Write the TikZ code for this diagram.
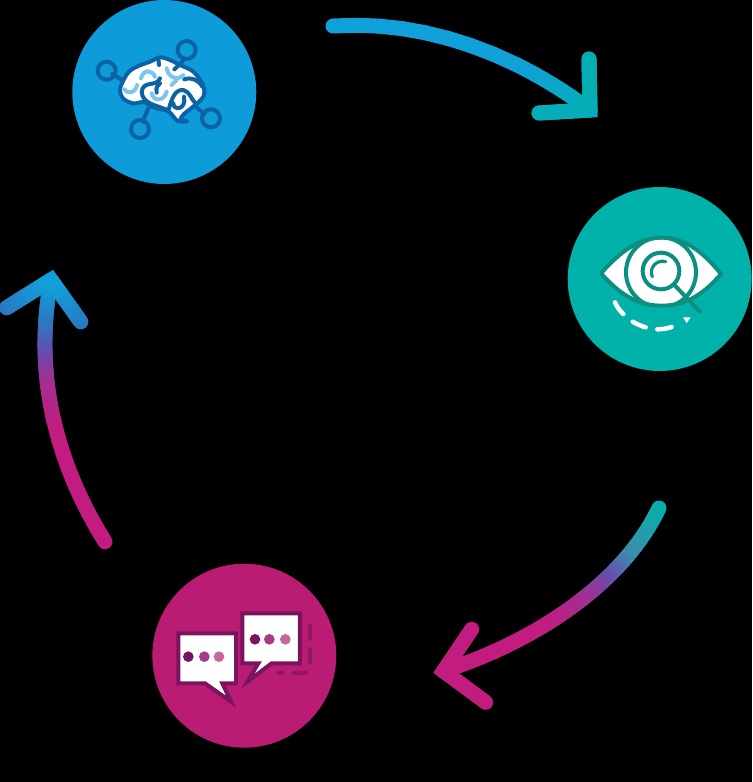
\documentclass[tikz,border=0pt]{standalone}
\usepackage{xcolor}
\usepackage{tikz}
\usetikzlibrary{calc,positioning}
\definecolor{brainblue}{HTML}{0E9BD9}
\definecolor{braindark}{HTML}{0B63A6}
\definecolor{brainlight}{HTML}{7CC6EE}
\definecolor{eyeteal}{HTML}{00B2A9}
\definecolor{eyedark}{HTML}{0C8F80}
\definecolor{chatpink}{HTML}{B91C72}
\definecolor{chatdark}{HTML}{7B1460}
\definecolor{chatmid}{HTML}{A53B87}
\definecolor{chatsoft}{HTML}{C565A2}
\definecolor{arrowblue}{HTML}{10A0DA}
\definecolor{arrowsky}{HTML}{2B78C2}
\definecolor{arrowteal}{HTML}{00B2A9}
\definecolor{arrowsea}{HTML}{3A8FAE}
\definecolor{arrowviolet}{HTML}{6A4BAC}
\definecolor{arrowplum}{HTML}{A22F90}
\definecolor{arrowpink}{HTML}{C21C80}
\tikzset{
  stage/.style={circle, draw=none, inner sep=0pt, minimum size=3.68cm},
  arrowline/.style={line width=0.3cm, line cap=round, line join=round},
  arrowhead/.style={line width=0.3cm, line cap=round, line join=miter, miter limit=10},
  iconline/.style={line width=0.08cm, line cap=round, line join=round},
  iconthin/.style={line width=0.065cm, line cap=round, line join=round}
}
% draws a path piece by piece, each stop list entry is from/to/colour/colour
\newcommand{\gradcurve}[2]{%
  \foreach \tA/\tB/\colA/\colB in {#2} {
    \foreach \s in {0,...,7} {
      \pgfmathsetmacro\pa{\tA+(\tB-\tA)*\s/8}
      \pgfmathsetmacro\pb{\tA+(\tB-\tA)*(\s+1)/8}
      \pgfmathsetmacro\mixp{100*(\s+0.5)/8}
      \path #1 coordinate[pos=\pa] (pa) coordinate[pos=\pb] (pb);
      \draw[arrowline, \colB!\mixp!\colA] (pa) -- (pb);
    }
  }
}
\begin{document}
\begin{tikzpicture}[x=0.02cm,y=-0.02cm]
  \fill[black] (0,0) rectangle (752,782);
  \useasboundingbox (0,0) rectangle (752,782);

  \node[stage, fill=brainblue] (brain) at (164.3,92) {};
  \node[stage, fill=eyeteal] (eye) at (659.7,279) {};
  \node[stage, fill=chatpink] (chat) at (244.3,655.7) {};

  % arrow from brain to eye
  \coordinate (startA) at (333,26);
  \coordinate (tipA) at (590,110);
  \coordinate (armAa) at (589,59);
  \coordinate (armAb) at (539,113);
  \gradcurve{(startA) .. controls (420,20) and (510,50) .. (tipA)}
    {0/0.7/arrowblue/arrowblue, 0.7/1/arrowblue/arrowteal!60!arrowblue}
  \draw[arrowhead, arrowteal] (armAa) -- (tipA) -- (armAb);
  \gradcurve{(armAa) -- (tipA)}{0/1/arrowteal!80!arrowblue/arrowteal}
  \gradcurve{(armAb) -- (tipA)}{0/1/arrowteal!70!arrowblue/arrowteal}

  % arrow from eye to chat
  \coordinate (startB) at (659,508);
  \coordinate (tipB) at (443.5,671);
  \coordinate (armBa) at (471.7,629.3);
  \coordinate (armBb) at (485.7,702.3);
  \gradcurve{(startB) .. controls (625,580) and (540,640) .. (tipB)}
    {0/0.24/arrowteal/arrowsea, 0.24/0.36/arrowsea/arrowviolet, 0.36/0.48/arrowviolet/arrowplum, 0.48/0.64/arrowplum/arrowpink, 0.64/1/arrowpink/arrowpink}
  \draw[arrowhead, arrowpink] (armBa) -- (tipB) -- (armBb);

  % arrow from chat to brain
  \coordinate (startC) at (105,541.7);
  \coordinate (tipC) at (51,280);
  \coordinate (armCa) at (6.7,307.7);
  \coordinate (armCb) at (80.7,321.7);
  \gradcurve{(startC) .. controls (60,470) and (32,380) .. (tipC)}
    {0/0.5/arrowpink/arrowpink, 0.5/0.67/arrowpink/arrowplum, 0.67/0.77/arrowplum/arrowviolet, 0.77/0.88/arrowviolet/arrowsky, 0.88/1/arrowsky/arrowblue}
  \draw[arrowhead, arrowblue] (armCa) -- (tipC) -- (armCb);
  \gradcurve{(armCa) -- (tipC)}{0/1/arrowsky/arrowblue}
  \gradcurve{(armCb) -- (tipC)}{0/1/arrowsky/arrowblue}

  % brain icon rings, zoomed coordinates
  \begin{scope}[shift={(70,0)},scale=1/3]
    \draw[iconline, braindark] (127,222) -- (165,245);
    \draw[iconline, braindark] (342,175) -- (325,205);
    \draw[iconline, braindark] (218,365) -- (235,325);
    \draw[iconline, braindark] (403,342) -- (375,318);
    \foreach \nx/\ny in {110/212,350/150,210/387,423/355}
      \draw[iconline, braindark] (\nx,\ny) circle (27);
  \end{scope}

  % brain icon body, zoomed coordinates
  \begin{scope}[shift={(115,50)},scale=1/3]
    \draw[iconline, braindark, fill=white] plot[smooth cycle, tension=0.55] coordinates {
      (15,118) (30,82) (45,62) (70,48) (105,35) (135,22) (165,30) (195,45) (235,65)
      (264,105) (265,140) (232,172) (207,192) (197,208) (217,214) (187,212) (160,184)
      (115,172) (88,156) (55,160) (25,146)};
    \draw[iconline, braindark] (135,85) .. controls (125,112) and (85,90) .. (80,125)
      .. controls (82,165) and (130,165) .. (160,182)
      .. controls (170,145) and (180,118) .. (205,120)
      .. controls (225,125) and (230,150) .. (240,158);
    \draw[iconline, braindark] (207,140) .. controls (215,180) and (175,183) .. (175,160);
    \draw[iconline, braindark] (125,128) .. controls (122,112) and (128,105) .. (135,100);
    \draw[iconline, braindark] (130,25) -- (132,45);
    \draw[iconline, braindark] (192,45) -- (178,58);
    \draw[iconline, braindark] (208,88) .. controls (230,80) and (250,90) .. (262,110);
    \draw[iconline, brainlight] (28,118) .. controls (40,135) and (62,128) .. (66,105);
    \draw[iconline, brainlight] (78,85) .. controls (85,58) and (110,58) .. (120,80);
    \draw[iconline, brainlight] (155,55) .. controls (160,85) and (190,92) .. (205,75);
    \draw[iconline, brainlight] (110,130) .. controls (115,155) and (148,155) .. (155,125);
    \draw[iconline, brainlight] (170,105) -- (185,90);
  \end{scope}

  % eye icon, zoomed coordinates
  \begin{scope}[shift={(565,185)},scale=1/3]
    \draw[iconline, eyedark, fill=white] (108,265) .. controls (170,195) and (225,158) .. (290,158)
      .. controls (355,158) and (410,195) .. (468,267)
      .. controls (410,335) and (355,362) .. (290,362)
      .. controls (225,362) and (170,335) .. (108,265) -- cycle;
    \begin{scope}
      \clip (108,265) .. controls (170,195) and (225,158) .. (290,158)
        .. controls (355,158) and (410,195) .. (468,267)
        .. controls (410,335) and (355,362) .. (290,362)
        .. controls (225,362) and (170,335) .. (108,265) -- cycle;
      \draw[iconline, eyedark] (288,262) circle (105);
    \end{scope}
    \draw[iconline, eyedark] (330,302) -- (405,380);
    \draw[iconline, eyedark, fill=white] (288,258) circle (55);
    \draw[iconthin, eyedark] (262,275) .. controls (250,250) and (275,222) .. (302,230);
    \draw[iconline, white, line width=0.09cm] (150,352) .. controls (155,365) and (165,378) .. (175,387);
    \draw[iconline, white, line width=0.09cm] (203,410) .. controls (215,417) and (228,423) .. (242,427);
    \draw[iconline, white, line width=0.09cm] (277,433) .. controls (290,433) and (305,431) .. (320,426);
    \fill[white] (354,397) -- (377,397) -- (365,414) -- cycle;
  \end{scope}

  % chat icon, zoomed coordinates
  \begin{scope}[shift={(150,560)},scale=1/3]
    \draw[iconline, chatdark, fill=white, line join=miter] (85,220) -- (258,220) -- (258,370) -- (217,370)
      -- (243,425) -- (165,370) -- (85,370) -- cycle;
    \draw[iconline, chatdark, fill=white, line join=miter] (277,160) -- (450,160) -- (450,310) -- (365,310)
      -- (292,365) -- (325,310) -- (277,310) -- cycle;
    \foreach \dotx/\doty/\dotcol in {115/290/chatdark,163/290/chatmid,207/290/chatsoft,315/238/chatdark,358/238/chatmid,406/238/chatsoft}
      \fill[\dotcol] (\dotx,\doty) circle (16);
    \draw[iconline, chatdark!70!chatpink] (480,198) -- (480,236);
    \draw[iconline, chatdark!70!chatpink] (480,268) -- (480,306);
    \draw[iconline, chatdark!70!chatpink] (385,338) -- (398,338);
    \draw[iconline, chatdark!70!chatpink] (432,338) -- (468,338);
  \end{scope}
\end{tikzpicture}
\end{document}
